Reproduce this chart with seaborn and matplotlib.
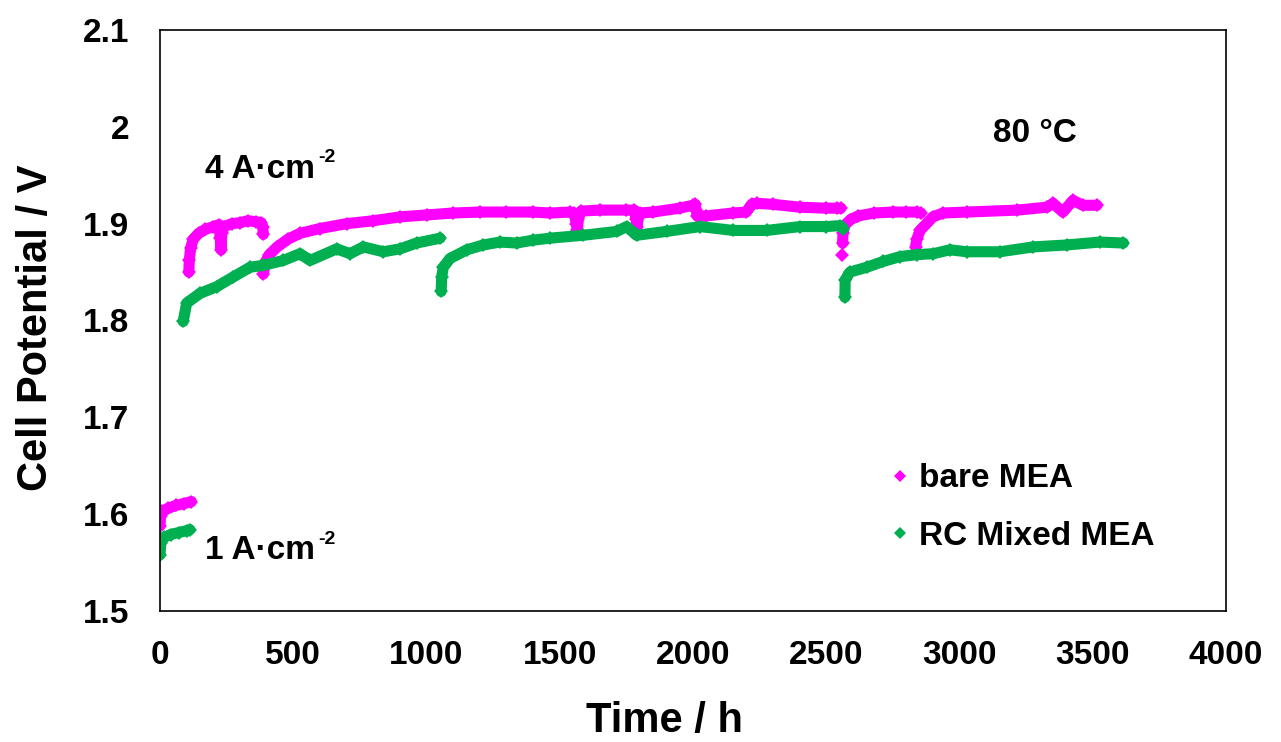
import numpy as np
import pandas as pd
import matplotlib
matplotlib.use("Agg")
import matplotlib.pyplot as plt
from matplotlib.lines import Line2D
import seaborn as sns

# ---- durability data: cell potential (V) vs. time (h) ----
# bare MEA: segment id, hours, volts
bare_seg = [0] * 7 + [1] * 19 + [2] * 46 + [3] + [4] * 10 + [5] * 13
bare_hours = [
    0, 2, 8, 30, 60, 90, 118,
    108, 110, 115, 125, 145, 170, 200, 222, 226, 229, 232, 240, 270, 300, 330, 360, 380, 385, 388,
    388, 395, 410, 440, 480, 525, 600, 700, 800, 900, 1000, 1100, 1200, 1300, 1400, 1463, 1540,
    1555, 1562, 1566, 1570, 1580, 1650, 1750, 1780, 1786, 1790, 1795, 1800, 1850, 1950, 2000,
    2008, 2012, 2016, 2050, 2150, 2200, 2210, 2220, 2240, 2300, 2400, 2500, 2540, 2555,
    2560,
    2561, 2563, 2568, 2590, 2620, 2680, 2750, 2800, 2840, 2855,
    2835, 2840, 2852, 2900, 2938, 3028, 3216, 3328, 3351, 3388, 3426, 3463, 3516,
]
bare_volts = [
    1.588, 1.598, 1.603, 1.606, 1.609, 1.611, 1.613,
    1.850, 1.862, 1.875, 1.884, 1.890, 1.894, 1.897, 1.899, 1.885, 1.873, 1.890, 1.897, 1.900,
    1.901, 1.903, 1.902, 1.901, 1.897, 1.889,
    1.848, 1.860, 1.868, 1.876, 1.884, 1.890, 1.895, 1.900, 1.903, 1.907, 1.909, 1.911, 1.912,
    1.912, 1.912, 1.911, 1.912,
    1.911, 1.900, 1.893, 1.905, 1.913, 1.914, 1.914, 1.914, 1.905, 1.897, 1.906, 1.911, 1.912,
    1.916, 1.919,
    1.920, 1.914, 1.908, 1.908, 1.911, 1.912, 1.916, 1.920, 1.921, 1.920, 1.917, 1.916, 1.916,
    1.916,
    1.868,
    1.880, 1.890, 1.898, 1.904, 1.908, 1.911, 1.912, 1.912, 1.912, 1.911,
    1.876, 1.884, 1.893, 1.907, 1.911, 1.912, 1.914, 1.917, 1.921, 1.912, 1.924, 1.919, 1.919,
]

# RC Mixed MEA: segment id, hours, volts
rc_seg = [0] * 7 + [1] * 17 + [2] * 22 + [3] * 15
rc_hours = [
    0, 3, 15, 40, 70, 100, 112,
    87, 100, 150, 213, 275, 338, 388, 463, 525, 563, 663, 713, 763, 838, 901, 963, 1051,
    1055, 1057, 1063, 1088, 1151, 1213, 1276, 1338, 1401, 1463, 1588, 1714, 1751, 1788, 1901,
    2026, 2151, 2276, 2402, 2500, 2552, 2564,
    2570, 2571, 2589, 2652, 2714, 2777, 2839, 2902, 2964, 3027, 3152, 3277, 3402, 3527, 3615,
]
rc_volts = [
    1.558, 1.570, 1.576, 1.579, 1.581, 1.583, 1.584,
    1.799, 1.818, 1.828, 1.835, 1.845, 1.855, 1.857, 1.862, 1.869, 1.862, 1.874, 1.869, 1.876,
    1.871, 1.874, 1.880, 1.885,
    1.830, 1.845, 1.855, 1.864, 1.873, 1.878, 1.881, 1.880, 1.883, 1.885, 1.888, 1.892, 1.897,
    1.888, 1.892, 1.897, 1.893, 1.893, 1.897, 1.897, 1.898, 1.895,
    1.824, 1.842, 1.850, 1.855, 1.861, 1.866, 1.868, 1.869, 1.873, 1.871, 1.871, 1.876, 1.878,
    1.881, 1.880,
]

series_names = ["bare MEA", "RC Mixed MEA"]
series_colors = ["#FF00FF", "#00B050"]

x_ticks = [0, 500, 1000, 1500, 2000, 2500, 3000, 3500, 4000]
y_ticks = [1.5, 1.6, 1.7, 1.8, 1.9, 2.0, 2.1]
y_tick_labels = ["1.5", "1.6", "1.7", "1.8", "1.9", "2", "2.1"]

df = pd.concat([
    pd.DataFrame({"hours": bare_hours, "volts": bare_volts, "seg": bare_seg,
                  "sample": series_names[0]}),
    pd.DataFrame({"hours": rc_hours, "volts": rc_volts, "seg": rc_seg,
                  "sample": series_names[1]}),
], ignore_index=True)
df["unit"] = df["sample"] + "_" + df["seg"].astype(str)

sns.set_theme(style="white")
plt.rcParams["font.family"] = ["Liberation Sans", "DejaVu Sans"]
plt.rcParams["font.weight"] = "bold"
plt.rcParams["text.color"] = "black"

fig = plt.figure(figsize=(12.81, 7.42), dpi=100)
ax = fig.add_axes([160 / 1281, 1 - 611 / 742, 1066 / 1281, 581 / 742])

palette = dict(zip(series_names, series_colors))
sns.lineplot(data=df, x="hours", y="volts", hue="sample", units="unit",
             estimator=None, sort=False, palette=palette, linewidth=8,
             marker="D", markersize=7.5, markeredgewidth=0, legend=False, ax=ax,
             solid_capstyle="round", solid_joinstyle="round")

ax.set_xlim(0, 4000)
ax.set_ylim(1.5, 2.1)
ax.set_xticks(x_ticks)
ax.set_yticks(y_ticks)
ax.set_yticklabels(y_tick_labels)
ax.tick_params(axis="both", direction="in", length=7, width=1.1, labelsize=24,
               color="black", labelcolor="black")
ax.tick_params(axis="x", pad=21)
ax.tick_params(axis="y", pad=22)
for lab in ax.get_xticklabels() + ax.get_yticklabels():
    lab.set_fontweight("bold")
for sp in ax.spines.values():
    sp.set_color("black")
    sp.set_linewidth(1.2)

ax.set_xlabel("Time / h", fontsize=30, fontweight="bold", color="black")
ax.set_ylabel("Cell Potential / V", fontsize=30, fontweight="bold", color="black")
ax.xaxis.set_label_coords(0.473, -0.155)
ax.yaxis.set_label_coords(-0.098, 0.487)

# current-density and temperature annotations
t4 = ax.text(170, 1.9475, "4 A·cm", fontsize=24, fontweight="bold", ha="left",
             va="baseline", color="black")
ax.annotate("-2", xy=(1.0, 0.60), xycoords=t4, xytext=(2, 0),
            textcoords="offset points", fontsize=14, fontweight="bold",
            ha="left", va="bottom", color="black")
t1 = ax.text(170, 1.5535, "1 A·cm", fontsize=24, fontweight="bold", ha="left",
             va="baseline", color="black")
ax.annotate("-2", xy=(1.0, 0.60), xycoords=t1, xytext=(2, 0),
            textcoords="offset points", fontsize=14, fontweight="bold",
            ha="left", va="bottom", color="black")
ax.text(3125, 1.984, "80 °C", fontsize=24, fontweight="bold", ha="left",
        va="baseline", color="black")

handles = [Line2D([], [], ls="", marker="D", markersize=6, markeredgewidth=0,
                  color=c) for c in series_colors]
ax.legend(handles, series_names, loc="upper left", bbox_to_anchor=(0.657, 0.306),
          frameon=False, prop={"weight": "bold", "size": 24}, labelcolor="black",
          handlelength=0.6, handletextpad=0.25, labelspacing=0.8)

fig.savefig("out.png", dpi=100, facecolor="white")
